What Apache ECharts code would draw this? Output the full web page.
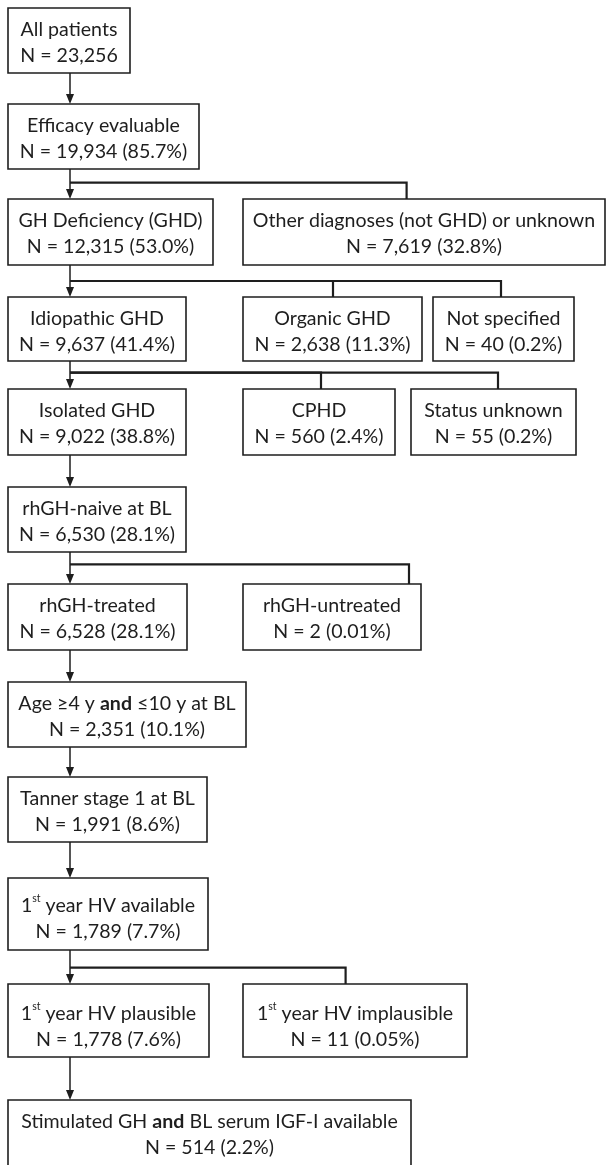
<!DOCTYPE html>
<html><head><meta charset="utf-8">
<script src="https://cdn.jsdelivr.net/npm/echarts/dist/echarts.min.js"></script>
<style>html,body{margin:0;padding:0;background:#fff}#c{width:609px;height:1165px}</style>
</head><body><div id="c"></div>
<script>
// ---- data ----
const titles = [
  'All patients',
  'Efficacy evaluable',
  'GH Deficiency (GHD)',
  'Other diagnoses (not GHD) or unknown',
  'Idiopathic GHD',
  'Organic GHD',
  'Not specified',
  'Isolated GHD',
  'CPHD',
  'Status unknown',
  'rhGH-naive at BL',
  'rhGH-treated',
  'rhGH-untreated',
  'Age ≥4 y {b|and} ≤10 y at BL',
  'Tanner stage 1 at BL',
  '1{sup|st} year HV available',
  '1{sup|st} year HV plausible',
  '1{sup|st} year HV implausible',
  'Stimulated GH {b|and} BL serum IGF-I available'
];
const counts = [23256, 19934, 12315, 7619, 9637, 2638, 40, 9022, 560, 55, 6530, 6528, 2, 2351, 1991, 1789, 1778, 11, 514];
const percents = ['', '85.7', '53.0', '32.8', '41.4', '11.3', '0.2', '38.8', '2.4', '0.2', '28.1', '28.1', '0.01', '10.1', '8.6', '7.7', '7.6', '0.05', '2.2'];
const parents = [-1, 0, 1, 1, 2, 2, 2, 4, 4, 4, 7, 10, 10, 11, 13, 14, 15, 15, 16];

// ---- layout (canvas units) ----
const boxes = [
  [8, 8, 130, 73],
  [8, 104, 199, 169],
  [8, 199, 213, 265],
  [243, 199, 605, 265],
  [8, 297, 186, 361],
  [243, 297, 422, 361],
  [433, 297, 574, 361],
  [8, 389, 186, 455],
  [243, 389, 395, 455],
  [411, 389, 576, 455],
  [8, 487, 186, 552],
  [8, 584, 187, 650],
  [243, 584, 421, 650],
  [8, 682, 246, 747],
  [8, 777, 207, 842],
  [8, 878, 208, 950],
  [8, 984, 209, 1057],
  [243, 984, 467, 1057],
  [8, 1100, 411, 1190]
];
const textTop = [9, 9, 9, 9, 9, 9, 9, 9, 9, 9, 9, 9, 9, 9, 9, 15, 17, 17, 9];
const branchY = {1: 182.7, 2: 281, 4: 372.7, 10: 564.3, 15: 967.7};
const sideX = {3: 406.6, 5: 333, 6: 501, 8: 321, 9: 498, 12: 409, 17: 345.6};
const MAIN_X = 70;

const INK = '#1e1e1e';
const FONT = 'Lato';
const FS = 19.6;

function fmtN(i) {
  return 'N = ' + counts[i].toLocaleString('en-US') + (percents[i] ? ' (' + percents[i] + '%)' : '');
}

function renderItem(params, api) {
  const i = api.value(0);
  const b = boxes[i];
  const p0 = api.coord([b[0], b[1]]);
  const p1 = api.coord([b[2], b[3]]);
  const children = [];
  const pi = parents[i];
  if (pi >= 0) {
    const pb = boxes[pi];
    if (sideX[i] === undefined) {
      const a = api.coord([MAIN_X, pb[3]]);
      const t = api.coord([MAIN_X, b[1]]);
      children.push({type: 'line', shape: {x1: a[0], y1: a[1], x2: t[0], y2: t[1] - 8},
        style: {stroke: INK, lineWidth: 1.5}});
      children.push({type: 'polygon', shape: {points: [[t[0] - 4, t[1] - 10], [t[0] + 4, t[1] - 10], [t[0], t[1]]]},
        style: {fill: INK}});
    } else {
      const s = api.coord([MAIN_X, branchY[pi]]);
      const m = api.coord([sideX[i], branchY[pi]]);
      const e = api.coord([sideX[i], b[1]]);
      children.push({type: 'polyline', shape: {points: [s, m, e]},
        style: {stroke: INK, lineWidth: 2.2, fill: null}});
    }
  }
  children.push({type: 'rect', shape: {x: p0[0], y: p0[1], width: p1[0] - p0[0], height: p1[1] - p0[1]},
    style: {fill: '#fff', stroke: INK, lineWidth: 1.6}});
  const tp = api.coord([(b[0] + b[2]) / 2, b[1] + textTop[i]]);
  children.push({type: 'text', style: {
    text: titles[i] + '\n' + fmtN(i),
    x: tp[0], y: tp[1], align: 'center', verticalAlign: 'top',
    fontFamily: FONT, fontSize: FS, lineHeight: 26, fill: INK,
    rich: {
      b: {fontFamily: FONT, fontSize: FS, fontWeight: 'bold', lineHeight: 26, fill: INK},
      sup: {fontFamily: FONT, fontSize: 10.5, lineHeight: 14, verticalAlign: 'top', fill: INK}
    }
  }});
  return {type: 'group', children: children};
}

const chart = echarts.init(document.getElementById('c'), null, {renderer: 'canvas'});
chart.setOption({
  animation: false,
  grid: {left: 0, right: 0, top: 0, bottom: 0},
  xAxis: {type: 'value', min: 0, max: 609, show: false},
  yAxis: {type: 'value', min: 0, max: 1165, inverse: true, show: false},
  series: [{
    type: 'custom',
    clip: false,
    renderItem: renderItem,
    data: titles.map((t, i) => [i])
  }]
});
</script></body></html>
